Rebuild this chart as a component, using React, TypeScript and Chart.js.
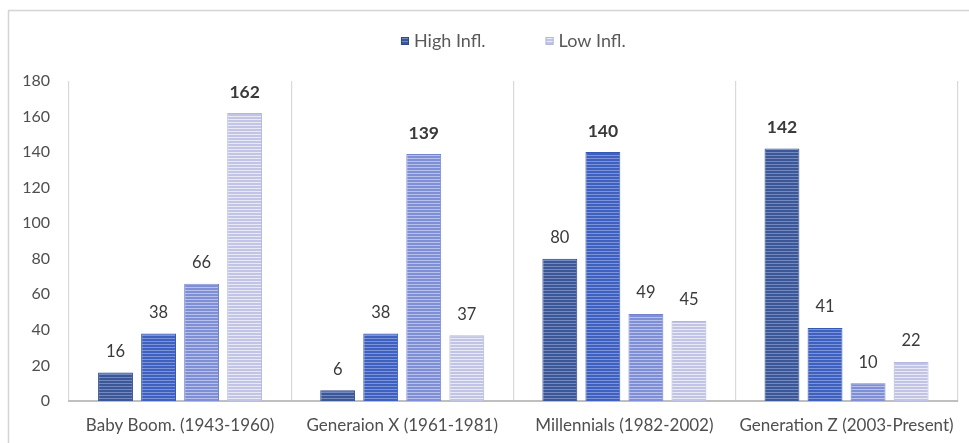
import React, { useEffect, useRef } from "react";
import { Chart, registerables } from "chart.js";

Chart.register(...registerables);

const categories = [
  "Baby Boom. (1943-1960)",
  "Generaion X (1961-1981)",
  "Millennials (1982-2002)",
  "Generation Z (2003-Present)",
];

const highInfl = [16, 6, 80, 142];
const midHighInfl = [38, 38, 140, 41];
const midLowInfl = [66, 139, 49, 10];
const lowInfl = [162, 37, 45, 22];

const yTicks = [0, 20, 40, 60, 80, 100, 120, 140, 160, 180];

const legendNames = ["High Infl.", "Low Infl."];

const FONT = "Lato, 'Open Sans', sans-serif";

// Horizontal striped fill: two rows of base colour, one row of a lighter tint.
function stripe(base: string, light: string): CanvasPattern | string {
  const c = document.createElement("canvas");
  c.width = 4;
  c.height = 3;
  const g = c.getContext("2d");
  if (!g) return base;
  g.fillStyle = base;
  g.fillRect(0, 0, 4, 2);
  g.fillStyle = light;
  g.fillRect(0, 2, 4, 1);
  const p = g.createPattern(c, "repeat");
  return p || base;
}

const palette = [
  { base: "#3b5796", light: "#7489c2", border: "#2f4a88" },
  { base: "#3e60be", light: "#7d94da", border: "#3557b6" },
  { base: "#7f8fd6", light: "#b8c1ec", border: "#7383cf" },
  { base: "#c1c4e4", light: "#e9eaf6", border: "#b3b7da" },
];

export default function App() {
  const ref = useRef<HTMLCanvasElement | null>(null);

  useEffect(() => {
    const canvas = ref.current;
    if (!canvas) return;

    const fills = palette.map((p) => stripe(p.base, p.light));
    const seriesValues = [highInfl, midHighInfl, midLowInfl, lowInfl];
    const seriesNames = ["High Infl.", "Mid-High Infl.", "Mid-Low Infl.", "Low Infl."];

    const frame = {
      id: "frame",
      beforeDraw(chart: any) {
        const ctx = chart.ctx;
        ctx.save();
        ctx.fillStyle = "#ffffff";
        ctx.fillRect(0, 0, chart.width, chart.height);
        ctx.strokeStyle = "#d4d4d4";
        ctx.lineWidth = 1.5;
        ctx.beginPath();
        ctx.moveTo(8.5, chart.height);
        ctx.lineTo(8.5, 10.5);
        ctx.lineTo(chart.width, 10.5);
        ctx.stroke();
        ctx.restore();
      },
    };

    const legend = {
      id: "topLegend",
      afterDraw(chart: any) {
        const ctx = chart.ctx;
        const area = chart.chartArea;
        ctx.save();
        ctx.font = `18px ${FONT}`;
        ctx.textBaseline = "middle";
        const box = 8;
        const gapText = 5;
        const gapItems = 60;
        const idx = [0, 3];
        const widths = legendNames.map((n) => ctx.measureText(n).width);
        const total =
          widths.reduce((a, b) => a + b, 0) + idx.length * (box + gapText) + gapItems;
        let x = (area.left + area.right) / 2 - total / 2;
        const y = 41;
        legendNames.forEach((name, i) => {
          const ds = idx[i];
          ctx.fillStyle = fills[ds];
          ctx.fillRect(x, y - box / 2, box, box);
          ctx.strokeStyle = palette[ds].border;
          ctx.lineWidth = 1;
          ctx.strokeRect(x + 0.5, y - box / 2 + 0.5, box - 1, box - 1);
          x += box + gapText;
          ctx.fillStyle = "#595959";
          ctx.textAlign = "left";
          ctx.fillText(name, x, y);
          x += widths[i] + gapItems;
        });
        ctx.restore();
      },
    };

    const valueLabels = {
      id: "valueLabels",
      afterDatasetsDraw(chart: any) {
        const ctx = chart.ctx;
        ctx.save();
        ctx.textAlign = "center";
        ctx.textBaseline = "middle";
        chart.data.datasets.forEach((ds: any, di: number) => {
          const meta = chart.getDatasetMeta(di);
          meta.data.forEach((bar: any, i: number) => {
            const v = ds.data[i] as number;
            const groupMax = Math.max(...seriesValues.map((s) => s[i]));
            const bold = v === groupMax;
            ctx.font = bold ? `bold 17.5px ${FONT}` : `16.5px ${FONT}`;
            ctx.fillStyle = "#3a3a3a";
            ctx.fillText(String(v), bar.x, bar.y - 21);
          });
        });
        ctx.restore();
      },
    };

    const chart = new Chart(canvas, {
      type: "bar",
      data: {
        labels: categories,
        datasets: seriesValues.map((vals, i) => ({
          label: seriesNames[i],
          data: vals,
          backgroundColor: fills[i] as any,
          borderColor: palette[i].border,
          borderWidth: 1,
          categoryPercentage: 0.775,
          barPercentage: 0.81,
        })),
      },
      options: {
        responsive: false,
        animation: false,
        devicePixelRatio: 1,
        layout: { padding: { top: 81, right: 11, bottom: 0, left: 0 } },
        plugins: {
          legend: { display: false },
          tooltip: { enabled: false },
          title: { display: false },
        },
        scales: {
          x: {
            grid: {
              display: true,
              color: "#d9d9d9",
              lineWidth: 1.2,
              drawTicks: false,
              offset: true,
            },
            border: { display: true, color: "#bfbfbf", width: 2 },
            ticks: {
              color: "#4f4f4f",
              font: { family: FONT, size: 17 },
              padding: 14,
              maxRotation: 0,
              minRotation: 0,
              autoSkip: false,
            },
            afterFit(scale: any) {
              scale.height = 42;
            },
          },
          y: {
            min: 0,
            max: 180,
            afterBuildTicks(scale: any) {
              scale.ticks = yTicks.map((v) => ({ value: v }));
            },
            grid: { display: false, drawTicks: false },
            border: { display: false },
            ticks: {
              color: "#4f4f4f",
              font: { family: FONT, size: 16 },
              padding: 19,
            },
            afterFit(scale: any) {
              scale.width = 69;
            },
          },
        },
      },
      plugins: [frame, legend, valueLabels],
    });

    return () => chart.destroy();
  }, []);

  return (
    <div style={{ position: "fixed", left: 0, top: 0, width: 969, height: 443, background: "#fff" }}>
      <canvas ref={ref} width={969} height={443} style={{ display: "block" }} />
    </div>
  );
}
